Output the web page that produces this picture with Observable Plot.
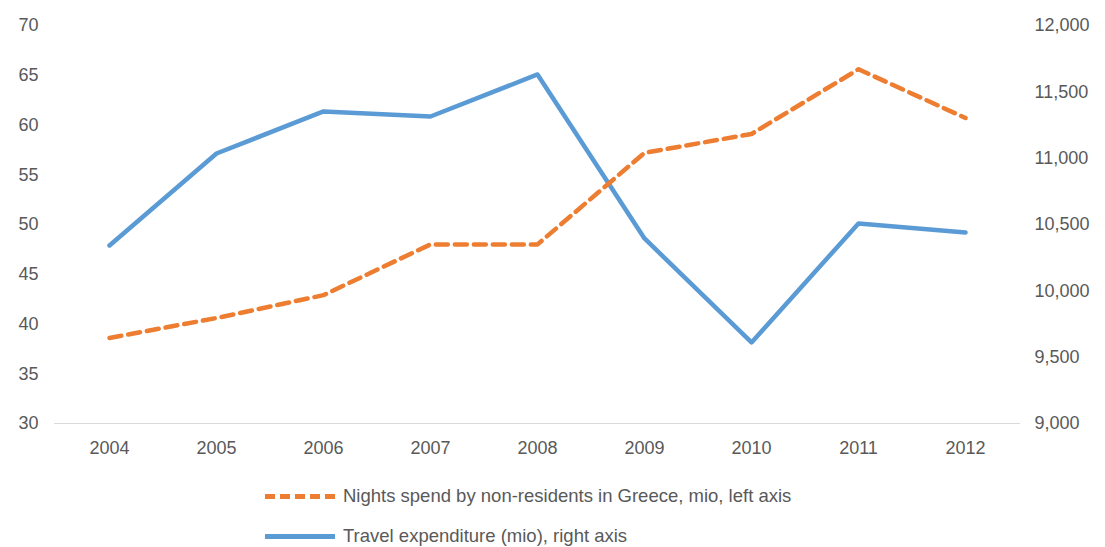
<!DOCTYPE html>
<html>
<head>
<meta charset="utf-8">
<script src="https://cdn.jsdelivr.net/npm/d3@7"></script>
<script src="https://cdn.jsdelivr.net/npm/@observablehq/plot@0.6"></script>
<style>
body { margin: 0; background: white; font-family: "Liberation Sans", Arial, sans-serif; color: #595959; }
.legend { margin-left: 265px; margin-top: 11px; font-size: 18.5px; }
.item { display: flex; align-items: center; height: 40px; }
.sw { width: 70px; height: 0; margin-right: 8px; }
</style>
</head>
<body>
<div id="chart"></div>
<div class="legend">
  <div class="item"><div class="sw" style="border-top: 5px dashed #ed7d31"></div>Nights spend by non-residents in Greece, mio, left axis</div>
  <div class="item"><div class="sw" style="border-top: 5px solid #5b9bd5"></div>Travel expenditure (mio), right axis</div>
</div>
<script>
const years = ["2004","2005","2006","2007","2008","2009","2010","2011","2012"];
const nights = [38.6, 40.6, 42.9, 48.0, 48.0, 57.2, 59.1, 65.6, 60.7];
const travel = [10342, 11035, 11352, 11314, 11631, 10395, 9611, 10508, 10440];
const rightTicks = [9000, 9500, 10000, 10500, 11000, 11500, 12000];

// right axis 9,000–12,000 mapped onto left 30–70
const toLeft = v => 30 + (v - 9000) / 3000 * 40;
const toRight = d => Math.round(9000 + (d - 30) * 75);

const nData = years.map((y, i) => ({year: y, v: nights[i]}));
const tData = years.map((y, i) => ({year: y, v: toLeft(travel[i])}));

const chart = Plot.plot({
  width: 1105,
  height: 465,
  marginLeft: 54,
  marginRight: 85,
  marginTop: 25,
  marginBottom: 42,
  style: {fontSize: "18px", fontFamily: "Liberation Sans, Arial, sans-serif", color: "#595959"},
  x: {type: "point", domain: years, padding: 0.5, label: null},
  y: {domain: [30, 70], label: null},
  marks: [
    Plot.ruleY([30], {stroke: "#d9d9d9"}),
    Plot.axisX({tickSize: 0, tickPadding: 18, label: null}),
    Plot.axisY({ticks: d3.range(30, 71, 5), tickSize: 0, tickPadding: 14, label: null, textAnchor: "start", dx: -22}),
    Plot.axisY({anchor: "right", ticks: rightTicks.map(toLeft), tickSize: 0, tickPadding: 14, label: null, tickFormat: d => d3.format(",")(toRight(d))}),
    Plot.line(tData, {x: "year", y: "v", stroke: "#5b9bd5", strokeWidth: 4.5}),
    Plot.line(nData, {x: "year", y: "v", stroke: "#ed7d31", strokeWidth: 4.5, strokeDasharray: "12,7"})
  ]
});
document.getElementById("chart").append(chart);
</script>
</body>
</html>
